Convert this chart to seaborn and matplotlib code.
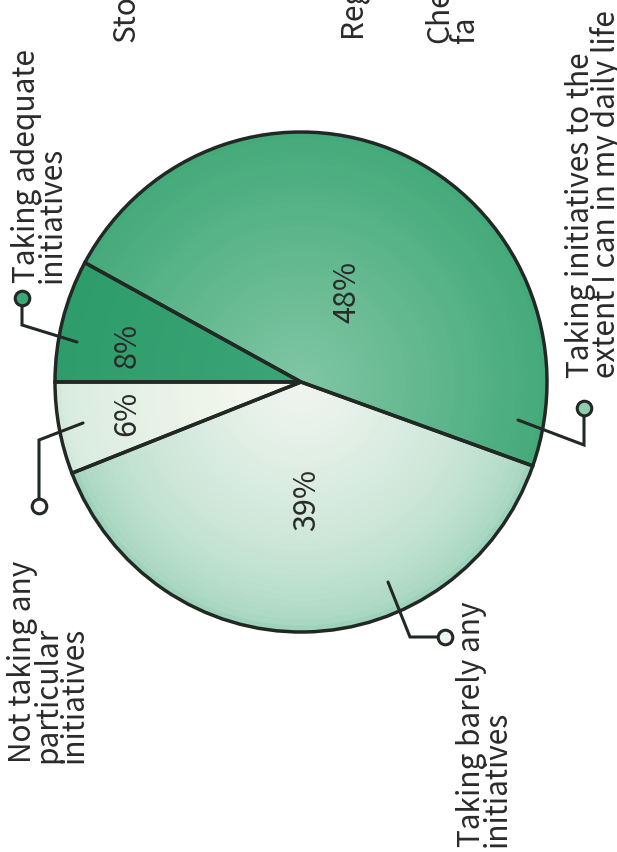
import numpy as np
import matplotlib
matplotlib.use("Agg")
import matplotlib.pyplot as plt
import seaborn as sns
from matplotlib.colors import to_rgb

# ---- data ----
categories = ["Taking adequate\ninitiatives",
              "Taking initiatives to the\nextent I can in my daily life",
              "Taking barely any\ninitiatives",
              "Not taking any\nparticular\ninitiatives"]
values = [8, 48, 39, 6]
pct_labels = ["8%", "48%", "39%", "6%"]
fragments = ["Sto", "Reg", "Che\nfa"]

# ---- style ----
edge_colors = ["#2f9c6b", "#45aa7b", "#9ed2ba", "#d3e9dc"]
center_colors = ["#3aa577", "#80c6a4", "#f0f5ef", "#f8f8ef"]
gamma = [1.0, 1.0, 0.55, 0.6]
marker_fill = ["#3aa776", "#8fcdb0", "#eef5ef", "white"]
ink = "#222824"
txt = "#2a2a2a"

sns.set_theme(style="white")
plt.rcParams['font.family'] = ['Noto Sans CJK JP', 'DejaVu Sans']

W, H = 617, 852
fig = plt.figure(figsize=(W / 100, H / 100), dpi=100)
ax = fig.add_axes([0, 0, 1, 1])
CX, CY, RX, RY = 301, 382, 246, 250


def P(px, py):
    return ((px - CX) / RX, (CY - py) / RY)


def mix(a, b, t):
    a, b = np.array(to_rgb(a)), np.array(to_rgb(b))
    return tuple(a * (1 - t) + b * t)


# radial gradient layers
N = 40
for k in range(N):
    r = 1 - k / N
    s = k / (N - 1)
    cols = [mix(e, c, s ** g) for e, c, g in zip(edge_colors, center_colors, gamma)]
    ax.pie(values, colors=cols, startangle=180, counterclock=False, radius=r,
           wedgeprops=dict(linewidth=0))

# outlines
ax.pie(values, colors=["none"] * len(values), startangle=180, counterclock=False,
       radius=1, wedgeprops=dict(linewidth=2.5, edgecolor=ink, facecolor="none"))

ax.set_aspect("auto")
ax.set_xlim(-CX / RX, (W - CX) / RX)
ax.set_ylim(-(H - CY) / RY, CY / RY)
ax.axis("off")

# percentages
pct_pos = [(127, 345), (347, 292), (307, 500), (127, 413)]
for lab, (px, py) in zip(pct_labels, pct_pos):
    ax.text(*P(px, py), lab, rotation=90, ha="center", va="center",
            fontsize=22, color=txt)

# leader lines
paths = [
    [(22, 305), (22, 325), (77, 342)],
    [(584, 415), (584, 445), (518, 420)],
    [(438, 637), (410, 637), (388, 582)],
    [(39, 499), (39, 440), (83, 423)],
]
circles = [(22, 298), (584, 408), (445, 637), (39, 506)]
for path, (mx, my), fc in zip(paths, circles, marker_fill):
    xs, ys = zip(*[P(x, y) for x, y in path])
    ax.plot(xs, ys, color=ink, lw=2.2, solid_joinstyle="miter", zorder=5)
    ax.plot(*P(mx, my), marker="o", ms=10.5, mfc=fc, mec=ink, mew=2.2, zorder=6)

# category labels
FS = 21.5
label_pos = [(11, 283), (565, 378), (456, 847), (7, 763)]
for lab, (px, py) in zip(categories, label_pos):
    ax.text(*P(px, py), lab, rotation=90, rotation_mode="anchor", ha="left",
            va="top", fontsize=FS, linespacing=0.78, color=txt)

# cut-off neighbouring labels
frag_pos = [(111, 42), (337, 37), (424, 43)]
for lab, (px, py) in zip(fragments, frag_pos):
    ax.text(*P(px, py), lab, rotation=90, rotation_mode="anchor", ha="left",
            va="top", fontsize=FS, linespacing=0.78, color=txt)

fig.savefig("out.png", dpi=100)
